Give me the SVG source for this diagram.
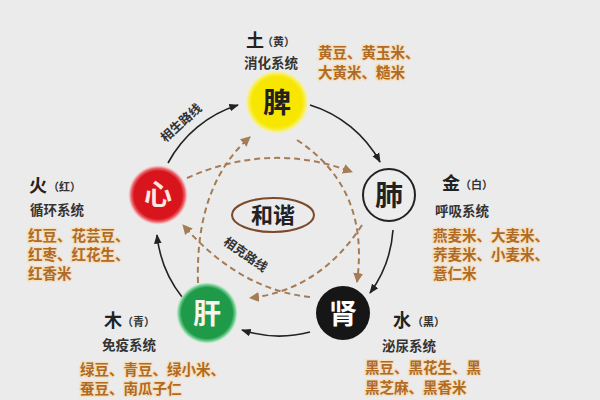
<svg xmlns="http://www.w3.org/2000/svg" width="600" height="400" viewBox="0 0 600 400">
<defs>
<style>
text{font-family:"Noto Sans CJK SC","Noto Sans",sans-serif;}
.el{font-size:18px;font-weight:bold;fill:#222;}
.par{font-size:11px;font-weight:bold;fill:#333;}
.sys{font-size:13.5px;font-weight:bold;fill:#333;}
.food{font-size:14.5px;font-weight:bold;fill:#b06a24;stroke:#f4dfbf;stroke-width:2.5px;paint-order:stroke;}
.org{font-size:28px;font-weight:bold;text-anchor:middle;}
.sheng{fill:none;stroke:#222;stroke-width:1.6;marker-end:url(#ah);}
.ke{fill:none;stroke:#a57c55;stroke-width:2;stroke-dasharray:6 4;marker-end:url(#dh);}
.lbl{font-size:12.5px;font-weight:bold;fill:#333;text-anchor:middle;}
</style>
<marker id="ah" viewBox="0 0 10 10" refX="9" refY="5" markerWidth="6" markerHeight="6" orient="auto" markerUnits="strokeWidth">
<path d="M0,1 L10,5 L0,9 z" fill="#222"/>
</marker>
<marker id="dh" viewBox="0 0 10 10" refX="9" refY="5" markerWidth="5" markerHeight="5" orient="auto" markerUnits="strokeWidth">
<path d="M0,0 L10,5 L0,10 z" fill="#a57c55"/>
</marker>
<radialGradient id="gy" cx="0.5" cy="0.5" r="0.5">
<stop offset="0.78" stop-color="#f7e600"/><stop offset="0.9" stop-color="#f9ef60"/><stop offset="1" stop-color="#f9f3a0" stop-opacity="0"/>
</radialGradient>
<radialGradient id="gr" cx="0.5" cy="0.5" r="0.5">
<stop offset="0.8" stop-color="#d8141c"/><stop offset="0.9" stop-color="#ec6a70"/><stop offset="1" stop-color="#f5b0b0" stop-opacity="0"/>
</radialGradient>
<radialGradient id="gg" cx="0.5" cy="0.5" r="0.5">
<stop offset="0.82" stop-color="#1f9a48"/><stop offset="0.92" stop-color="#7cd39a"/><stop offset="1" stop-color="#c0ecc8" stop-opacity="0"/>
</radialGradient>
</defs>
<rect width="600" height="400" fill="#ebebeb"/>

<g id="connectors">
<path class="sheng" d="M168,163 A120,120 0 0 1 238,105"/>
<path class="sheng" d="M310,105 A120,120 0 0 1 380,162"/>
<path class="sheng" d="M393,230 A120,120 0 0 1 370,293"/>
<path class="sheng" d="M310,332 A120,120 0 0 1 242,330"/>
<path class="sheng" d="M182,297 A120,120 0 0 1 157,235"/>
<path class="ke" d="M187,178 Q270,141 352,172"/>
<path class="ke" d="M297,140 Q370,188 357,282"/>
<path class="ke" d="M362,225 Q320,290 250,298"/>
<path class="ke" d="M198,283 Q195,185 250,137"/>
<path class="ke" d="M310,297 Q240,290 183,225"/>
<text class="lbl" transform="translate(184,126) rotate(-42)">相生路线</text>
<text class="lbl" transform="translate(243,258) rotate(35)">相克路线</text>
</g>

<g id="harmony">
<ellipse cx="273" cy="215" rx="41" ry="17" fill="none" stroke="#7a4a2a" stroke-width="2"/>
<text x="273" y="223" font-size="22" font-weight="bold" fill="#222" text-anchor="middle">和谐</text>
</g>

<g id="spleen">
<circle cx="277" cy="102" r="32" fill="url(#gy)"/>
<text class="org" x="277" y="113" fill="#222">脾</text>
<text class="el" x="246" y="47">土</text><text class="par" x="262" y="46">（黄）</text>
<text class="sys" x="244" y="68">消化系统</text>
<text class="food" x="318" y="58">黄豆、黄玉米、</text>
<text class="food" x="318" y="78">大黄米、糙米</text>
</g>

<g id="lung">
<circle cx="389" cy="195" r="26" fill="#ededed" stroke="#222" stroke-width="2"/>
<text class="org" x="389" y="206" fill="#222">肺</text>
<text class="el" x="442" y="190">金</text><text class="par" x="460" y="189">（白）</text>
<text class="sys" x="435" y="216">呼吸系统</text>
<text class="food" x="433" y="241">燕麦米、大麦米、</text>
<text class="food" x="433" y="260">荞麦米、小麦米、</text>
<text class="food" x="433" y="279">薏仁米</text>
</g>

<g id="kidney">
<circle cx="343" cy="313" r="27" fill="#161616"/>
<text class="org" x="343" y="324" fill="#fff">肾</text>
<text class="el" x="393" y="327">水</text><text class="par" x="412" y="326">（黑）</text>
<text class="sys" x="382" y="351">泌尿系统</text>
<text class="food" x="365" y="373">黑豆、黑花生、黑</text>
<text class="food" x="365" y="393">黑芝麻、黑香米</text>
</g>

<g id="liver">
<circle cx="207" cy="313" r="31" fill="url(#gg)"/>
<text class="org" x="207" y="324" fill="#f4f4f4">肝</text>
<text class="el" x="104" y="327">木</text><text class="par" x="122" y="326">（青）</text>
<text class="sys" x="102" y="350">免疫系统</text>
<text class="food" x="80" y="375">绿豆、青豆、绿小米、</text>
<text class="food" x="80" y="394">蚕豆、南瓜子仁</text>
</g>

<g id="heart">
<circle cx="158" cy="195" r="30" fill="url(#gr)"/>
<text class="org" x="158" y="205" fill="#fbe8e0" font-size="25">心</text>
<text class="el" x="29" y="192">火</text><text class="par" x="48" y="191">（红）</text>
<text class="sys" x="30" y="215">循环系统</text>
<text class="food" x="28" y="241">红豆、花芸豆、</text>
<text class="food" x="28" y="260">红枣、红花生、</text>
<text class="food" x="28" y="279">红香米</text>
</g>
</svg>
